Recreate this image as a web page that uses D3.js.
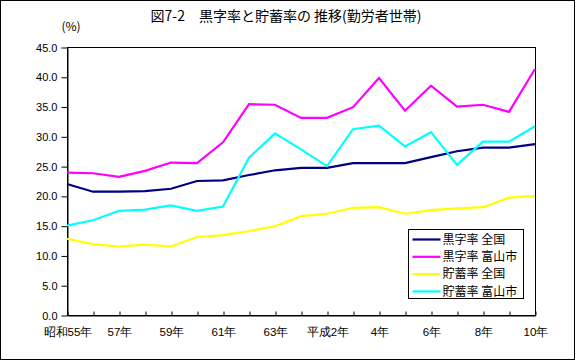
<!DOCTYPE html>
<html>
<head>
<meta charset="utf-8">
<script src="https://cdn.jsdelivr.net/npm/d3@7"></script>
<style>
  body { margin: 0; background: #fff; }
  svg { display: block; font-family: 'Noto Sans CJK JP', sans-serif; }
</style>
</head>
<body>
<script>
const categories = ['昭和55年', '56年', '57年', '58年', '59年', '60年', '61年', '62年', '63年',
  '平成元年', '2年', '3年', '4年', '5年', '6年', '7年', '8年', '9年', '10年']
const tickLabels = ['昭和55年', '', '57年', '', '59年', '', '61年', '', '63年',
  '', '平成2年', '', '4年', '', '6年', '', '8年', '', '10年']
const yTicks = [0, 5, 10, 15, 20, 25, 30, 35, 40, 45]

const seriesNames = ['黒字率 全国', '黒字率 富山市', '貯蓄率 全国', '貯蓄率 富山市']
const seriesColors = ['#000080', '#ff00ff', '#ffff00', '#00ffff']
const surplusNational = [22.0, 20.7, 20.7, 20.8, 21.2, 22.5, 22.6, 23.5, 24.3, 24.7,
  24.7, 25.5, 25.5, 25.5, 26.5, 27.5, 28.1, 28.1, 28.7]
const surplusToyama = [23.9, 23.8, 23.2, 24.2, 25.6, 25.5, 29.0, 35.4, 35.3, 33.1,
  33.1, 34.9, 39.8, 34.3, 38.5, 35.0, 35.3, 34.1, 41.3]
const savingNational = [12.8, 11.9, 11.5, 11.8, 11.5, 13.1, 13.4, 14.1, 14.9, 16.6,
  17.0, 18.0, 18.1, 17.0, 17.6, 17.9, 18.1, 19.7, 20.0]
const savingToyama = [15.0, 15.9, 17.5, 17.7, 18.4, 17.5, 18.2, 26.4, 30.5, 27.8,
  25.0, 31.2, 31.8, 28.3, 30.7, 25.2, 29.1, 29.1, 31.7]
const seriesValues = [surplusNational, surplusToyama, savingNational, savingToyama]

const SIZE = { WIDTH: 576, HEIGHT: 361 }
const PLOT = { LEFT: 67, RIGHT: 535, TOP: 47, BOTTOM: 315 }

const svg = d3.select('body').append('svg')
  .attr('width', SIZE.WIDTH)
  .attr('height', SIZE.HEIGHT)

svg.append('rect')
  .attr('x', 0.5).attr('y', 0.5)
  .attr('width', SIZE.WIDTH - 2).attr('height', SIZE.HEIGHT - 2)
  .attr('fill', '#fff')
  .attr('stroke', '#000')

svg.append('text')
  .attr('x', 286).attr('y', 21)
  .attr('text-anchor', 'middle')
  .style('font-size', '14px')
  .text('図7-2　黒字率と貯蓄率の 推移(勤労者世帯)')

svg.append('text')
  .attr('x', 71).attr('y', 31)
  .attr('text-anchor', 'middle')
  .style('font-size', '12px')
  .text('(%)')

const x = d3.scalePoint()
  .domain(categories)
  .range([PLOT.LEFT, PLOT.RIGHT])

const y = d3.scaleLinear()
  .domain([0, 45])
  .range([PLOT.BOTTOM, PLOT.TOP])

svg.append('rect')
  .attr('x', PLOT.LEFT + 0.5).attr('y', PLOT.TOP + 0.5)
  .attr('width', PLOT.RIGHT - PLOT.LEFT).attr('height', PLOT.BOTTOM - PLOT.TOP)
  .attr('fill', 'none')
  .attr('stroke', '#000')

const yAxis = svg.append('g')
  .attr('transform', `translate(${PLOT.LEFT + 0.5},0.5)`)
  .call(d3.axisLeft(y).tickValues(yTicks).tickFormat(d3.format('.1f'))
    .tickSizeInner(6).tickSizeOuter(0).tickPadding(4))
yAxis.select('.domain').attr('stroke', '#000')
yAxis.selectAll('text').style('font-size', '11px').style('font-family', 'inherit').attr('fill', '#000')

const xAxis = svg.append('g')
  .attr('transform', `translate(0.5,${PLOT.BOTTOM + 0.5})`)
  .call(d3.axisBottom(x).tickFormat((d, i) => tickLabels[i])
    .tickSizeInner(-4).tickSizeOuter(0).tickPadding(12))
xAxis.select('.domain').attr('stroke', '#000')
xAxis.selectAll('text').style('font-size', '11.5px').style('font-family', 'inherit').attr('fill', '#000')

const line = d3.line()
  .x((d, i) => x(categories[i]))
  .y(d => y(d))

svg.append('g')
  .selectAll('path')
  .data(seriesValues)
  .join('path')
  .attr('d', line)
  .attr('fill', 'none')
  .attr('stroke', (d, i) => seriesColors[i])
  .attr('stroke-width', 2.2)

const legend = svg.append('g')
  .attr('transform', 'translate(408.5,229.5)')

legend.append('rect')
  .attr('width', 115).attr('height', 69)
  .attr('fill', '#fff')
  .attr('stroke', '#000')

const rows = legend.selectAll('g.row')
  .data(seriesNames)
  .join('g')
  .attr('class', 'row')
  .attr('transform', (d, i) => `translate(0,${10 + i * 17.3})`)

rows.append('line')
  .attr('x1', 4).attr('x2', 32)
  .attr('stroke', (d, i) => seriesColors[i])
  .attr('stroke-width', 2.2)

rows.append('text')
  .attr('x', 34).attr('dy', '0.36em')
  .style('font-size', '12px')
  .text(d => d)
</script>
</body>
</html>
